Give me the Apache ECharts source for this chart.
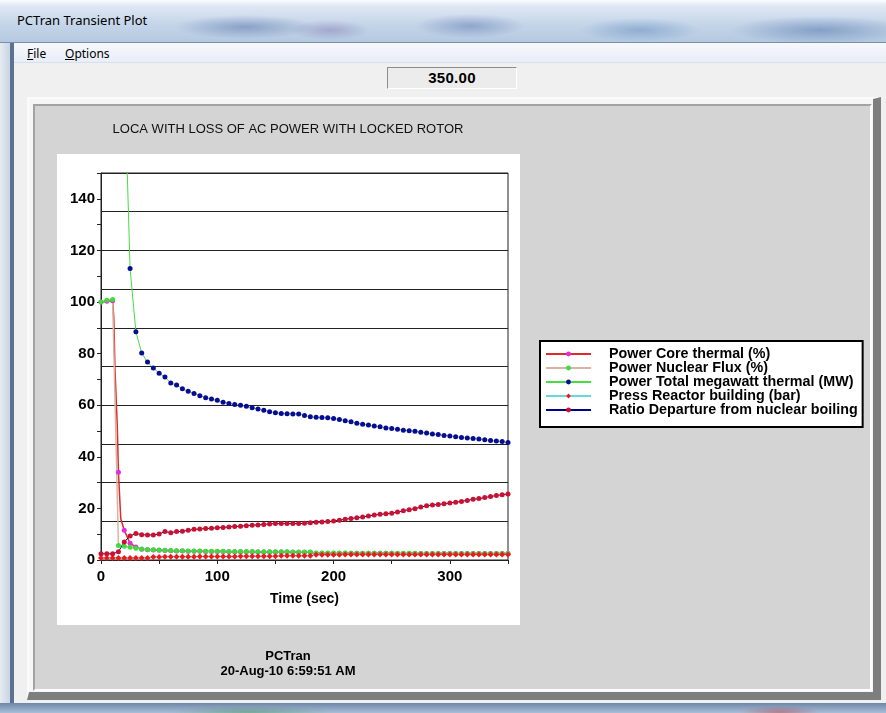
<!DOCTYPE html>
<html>
<head>
<meta charset="utf-8">
<script src="https://cdn.jsdelivr.net/npm/echarts@6/dist/echarts.min.js"></script>
<style>
html,body{margin:0;padding:0;width:886px;height:713px;overflow:hidden;background:#f0f0f0;}
.a{position:absolute;box-sizing:border-box;}
#titlebar{left:0;top:0;width:886px;height:43px;
 background:
  radial-gradient(ellipse 70px 12px at 245px 27px, rgba(70,100,160,.45), rgba(70,100,160,0)),
  radial-gradient(ellipse 40px 10px at 330px 30px, rgba(110,90,160,.35), rgba(110,90,160,0)),
  radial-gradient(ellipse 55px 12px at 470px 26px, rgba(80,110,170,.45), rgba(80,110,170,0)),
  radial-gradient(ellipse 60px 12px at 640px 30px, rgba(70,120,180,.40), rgba(70,120,180,0)),
  radial-gradient(ellipse 90px 14px at 820px 30px, rgba(60,100,160,.45), rgba(60,100,160,0)),
  linear-gradient(to bottom,#fbfcfe 0px,#dfe8f3 6px,#c7d7ea 22px,#b3c8e0 43px);
 border-bottom:1px solid #7b8fab;}
#title{left:17px;top:11px;font:13px "Noto Sans","DejaVu Sans",sans-serif;color:#000;white-space:nowrap;}
#leftFrame{left:0;top:43px;width:10px;height:670px;background:linear-gradient(to right,#e6ebf1,#c9d5e4);}
#leftEdge{left:10px;top:43px;width:4px;height:662px;background:#5d7190;}
#menubar{left:14px;top:43px;width:872px;height:20px;background:linear-gradient(to bottom,#f6f8fc,#e8eef7);border-bottom:1px solid #d8e0ec;
 font:12px "Noto Sans","DejaVu Sans",sans-serif;color:#000;}
#menubar span{position:absolute;top:2px;}
#valbox{left:387px;top:67px;width:130px;height:22px;background:#ececec;
 border-top:1px solid #8c8c8c;border-left:1px solid #8c8c8c;border-right:1px solid #fff;border-bottom:1px solid #fff;
 font:bold 15px "Liberation Sans",Arial,sans-serif;color:#000;text-align:center;line-height:20px;letter-spacing:0.3px;}
#panelOuter{left:27px;top:97px;width:854px;height:603px;background:#f6f6f6;
 border-top:2px solid #fbfbfb;border-left:2px solid #fbfbfb;border-right:8px solid #7e7e7e;border-bottom:8px solid #7e7e7e;}
#panelInner{left:33px;top:104px;width:839px;height:587px;background:#d4d4d4;
 border-top:2px solid #a3a3a3;border-left:2px solid #a3a3a3;border-right:2px solid #fdfdfd;border-bottom:2px solid #fdfdfd;}
#whiteBox{left:57px;top:154px;width:463px;height:471px;background:#fff;}
#bottomFrame{left:0;top:703px;width:886px;height:10px;
 background:
  radial-gradient(ellipse 80px 6px at 250px 9px, rgba(60,150,90,.45), rgba(60,150,90,0)),
  radial-gradient(ellipse 40px 6px at 780px 9px, rgba(190,60,60,.45), rgba(190,60,60,0)),
  linear-gradient(to bottom,#6f87a8,#a9bdd6);}
#chart{left:0;top:0;width:886px;height:713px;}
</style>
</head>
<body>
<div id="titlebar" class="a"></div>
<div id="title" class="a">PCTran Transient Plot</div>
<div id="leftFrame" class="a"></div>
<div id="leftEdge" class="a"></div>
<div id="menubar" class="a"><span style="left:13px"><u>F</u>ile</span><span style="left:51px"><u>O</u>ptions</span></div>
<div id="valbox" class="a">350.00</div>
<div id="panelOuter" class="a"></div>
<div id="panelInner" class="a"></div>
<div id="whiteBox" class="a"></div>
<div id="bottomFrame" class="a"></div>
<div id="chart" class="a"></div>
<script>
// ---- data ----
const chartTitle = 'LOCA WITH LOSS OF AC POWER WITH LOCKED ROTOR';
const footerLines = ['PCTran', '20-Aug-10 6:59:51 AM'];
const seriesNames = [
  'Power Core thermal (%)',
  'Power Nuclear Flux (%)',
  'Power Total megawatt thermal (MW)',
  'Press Reactor building (bar)',
  'Ratio Departure from nuclear boiling'
];
const xTickLabels = [0, 100, 200, 300];
const yTickLabels = [0, 20, 40, 60, 80, 100, 120, 140];

const times = [0,5,10,15,20,25,30,35,40,45,50,55,60,65,70,75,80,85,90,95,
  100,105,110,115,120,125,130,135,140,145,150,155,160,165,170,175,180,185,190,195,
  200,205,210,215,220,225,230,235,240,245,250,255,260,265,270,275,280,285,290,295,
  300,305,310,315,320,325,330,335,340,345,350];

const coreTimes = [0,5,10,11,12,14,15,17,20,25,30,35,40,45,50,55,60,65,70,75,80,85,90,95,
  100,105,110,115,120,125,130,135,140,145,150,155,160,165,170,175,180,185,190,195,
  200,205,210,215,220,225,230,235,240,245,250,255,260,265,270,275,280,285,290,295,
  300,305,310,315,320,325,330,335,340,345,350];
const coreThermal = [100,100.3,100.5,94,74,52,34,16,11.5,6.5,5.0,
  4.2,4.0,3.9,3.8,3.7,3.6,3.5,3.5,3.4,3.4,
  3.4,3.3,3.3,3.3,3.3,3.2,3.2,3.2,3.2,3.2,
  3.1,3.1,3.1,3.1,3.1,3.1,3.0,3.0,3.0,3.0,
  2.6,2.6,2.6,2.6,2.6,2.6,2.6,2.6,2.6,2.6,2.6,2.6,2.6,2.6,
  2.5,2.5,2.5,2.5,2.5,2.5,2.5,2.5,2.5,2.5,2.5,2.5,2.5,2.5,2.5,2.5,2.5,2.5,2.5,2.5];

const nuclearFlux = [100,100.7,101,5.6,5.3,4.9,4.6,4.3,4.1,4.0,
  3.9,3.8,3.7,3.6,3.6,3.5,3.5,3.5,3.4,3.4,
  3.4,3.4,3.3,3.3,3.3,3.3,3.3,3.2,3.2,3.2,
  3.2,3.2,3.2,3.1,3.1,3.1,3.1,2.7,2.7,2.7,
  2.7,2.7,2.7,2.6,2.6,2.6,2.6,2.6,2.6,2.6,
  2.6,2.6,2.6,2.6,2.6,2.5,2.5,2.5,2.5,2.5,
  2.5,2.5,2.5,2.5,2.5,2.5,2.5,2.5,2.5,2.5,
  2.5];

const totalMW = [3400,3400,3405,900,190,113,88.5,80.2,76.7,74.4,
  72.4,70.9,68.6,67.8,66.4,65.4,64.5,63.7,62.9,62.4,
  61.9,61.1,60.7,60.3,60.0,59.6,59.0,58.5,58.0,57.5,
  57.1,56.8,56.7,56.6,56.6,56.0,55.5,55.3,55.2,55.1,
  54.8,54.5,54.0,53.6,53.0,52.6,52.3,51.9,51.6,51.2,
  51.0,50.7,50.3,50.1,49.9,49.5,49.2,48.8,48.6,48.3,
  48.1,47.8,47.5,47.3,47.1,46.9,46.6,46.3,46.1,45.9,
  45.5];

const pressRB = [0.8,0.8,0.8,0.8,0.8,0.8,0.8,0.8,0.8,1.2,
  1.2,1.3,1.3,1.3,1.3,1.3,1.3,1.4,1.4,1.4,
  1.4,1.4,1.4,1.4,1.5,1.5,1.5,1.5,1.5,1.5,
  1.5,1.6,1.6,1.6,1.6,1.6,1.6,2.0,2.0,2.0,
  2.0,2.0,2.1,2.1,2.1,2.1,2.1,2.1,2.1,2.1,
  2.1,2.1,2.1,2.1,2.1,2.1,2.1,2.1,2.1,2.1,
  2.1,2.1,2.1,2.1,2.1,2.1,2.1,2.1,2.1,2.1,
  2.1];

const dnbr = [2.4,2.4,2.4,3.2,7.0,9.3,10.3,9.8,9.7,9.7,
  10.1,11.0,10.6,11.0,11.1,11.5,11.9,12.0,12.2,12.3,
  12.5,12.6,12.8,13.0,13.1,13.3,13.5,13.6,13.8,14.0,
  14.1,14.1,14.1,14.1,14.1,14.2,14.4,14.6,14.7,14.9,
  15.1,15.4,15.8,16.1,16.4,16.7,17.1,17.4,17.7,17.9,
  18.1,18.6,19.1,19.5,19.9,20.5,21.0,21.3,21.5,21.8,
  22.1,22.4,22.7,23.1,23.5,23.8,24.2,24.6,25.0,25.3,
  25.6];

// ---- build ----
function pairs(ts, vs) { return ts.map((t, i) => [t, vs[i]]); }
const coreData = coreTimes.map((t, i) =>
  times.indexOf(t) >= 0 ? { value: [t, coreThermal[i]] } : { value: [t, coreThermal[i]], symbol: 'none' });

const font = '"Liberation Sans", Arial, sans-serif';
function mkSeries(name, data, lineColor, markColor, lineWidth, symbol, size) {
  return {
    name, type: 'line', data,
    symbol: symbol || 'circle', symbolSize: size || 5, showSymbol: true,
    lineStyle: { color: lineColor, width: lineWidth },
    itemStyle: { color: markColor },
    emphasis: { disabled: true }, silent: true, clip: true
  };
}

const chart = echarts.init(document.getElementById('chart'), null, { renderer: 'canvas' });
chart.setOption({
  animation: false,
  backgroundColor: 'transparent',
  textStyle: { fontFamily: font },
  title: {
    text: chartTitle, left: 288, top: 123, padding: 0, textAlign: 'center',
    textStyle: { fontFamily: font, fontSize: 13, fontWeight: 'normal', color: '#111' }
  },
  legend: {
    orient: 'vertical', left: 540, top: 341,
    padding: [6, 5, 10, 5], itemGap: 0, itemWidth: 45, itemHeight: 6,
    backgroundColor: '#fff', borderColor: '#000', borderWidth: 2, borderRadius: 0,
    textStyle: { fontFamily: font, fontWeight: 'bold', fontSize: 14.3, color: '#000', lineHeight: 13.75, padding: [0, 0, 0, 13] },
    data: seriesNames, selectedMode: false
  },
  grid: { left: 101, top: 173, width: 407, height: 387, show: true, borderColor: '#222', borderWidth: 1, backgroundColor: 'transparent' },
  xAxis: {
    type: 'value', min: 0, max: 350, interval: 50,
    axisLine: { show: true, lineStyle: { color: '#222', width: 1 } },
    axisTick: { show: true, length: 4, lineStyle: { color: '#222' } },
    axisLabel: {
      formatter: v => (xTickLabels.indexOf(v) >= 0 ? String(v) : ''),
      fontFamily: font, fontWeight: 'bold', fontSize: 15, color: '#000', margin: 9
    },
    splitLine: { show: false },
    name: 'Time (sec)', nameLocation: 'middle', nameGap: 32,
    nameTextStyle: { fontFamily: font, fontWeight: 'bold', fontSize: 14, color: '#000' }
  },
  yAxis: [{
    type: 'value', min: 0, max: 150, interval: 10,
    axisLine: { show: true, lineStyle: { color: '#222', width: 1 } },
    axisTick: { show: true, length: 4, lineStyle: { color: '#222' } },
    axisLabel: {
      formatter: v => (yTickLabels.indexOf(v) >= 0 ? String(v) : ''),
      fontFamily: font, fontWeight: 'bold', fontSize: 15, color: '#000', margin: 6
    },
    splitLine: { show: false }
  }, {
    type: 'value', min: 0, max: 150, interval: 15, position: 'left',
    axisLine: { show: false }, axisTick: { show: false }, axisLabel: { show: false },
    splitLine: { show: true, lineStyle: { color: '#222', width: 1 } }
  }],
  graphic: [
    { type: 'text', x: 288, y: 656, silent: true,
      style: { text: footerLines[0], align: 'center', verticalAlign: 'middle', font: 'bold 13px ' + font, fill: '#000' } },
    { type: 'text', x: 288, y: 671, silent: true,
      style: { text: footerLines[1], align: 'center', verticalAlign: 'middle', font: 'bold 13px ' + font, fill: '#000' } }
  ],
  series: [
    mkSeries(seriesNames[0], coreData, '#dd2a2a', '#e22ce2', 1.5),
    mkSeries(seriesNames[1], pairs(times, nuclearFlux), '#d9b3a3', '#3ddc3d', 1.5),
    mkSeries(seriesNames[2], pairs(times, totalMW), '#44dd44', '#0a0a99', 1),
    mkSeries(seriesNames[3], pairs(times, pressRB), '#66d8e0', '#ee1a1a', 1, 'diamond', 6),
    mkSeries(seriesNames[4], pairs(times, dnbr), '#000088', '#cc1030', 1)
  ]
});
</script>
</body>
</html>
